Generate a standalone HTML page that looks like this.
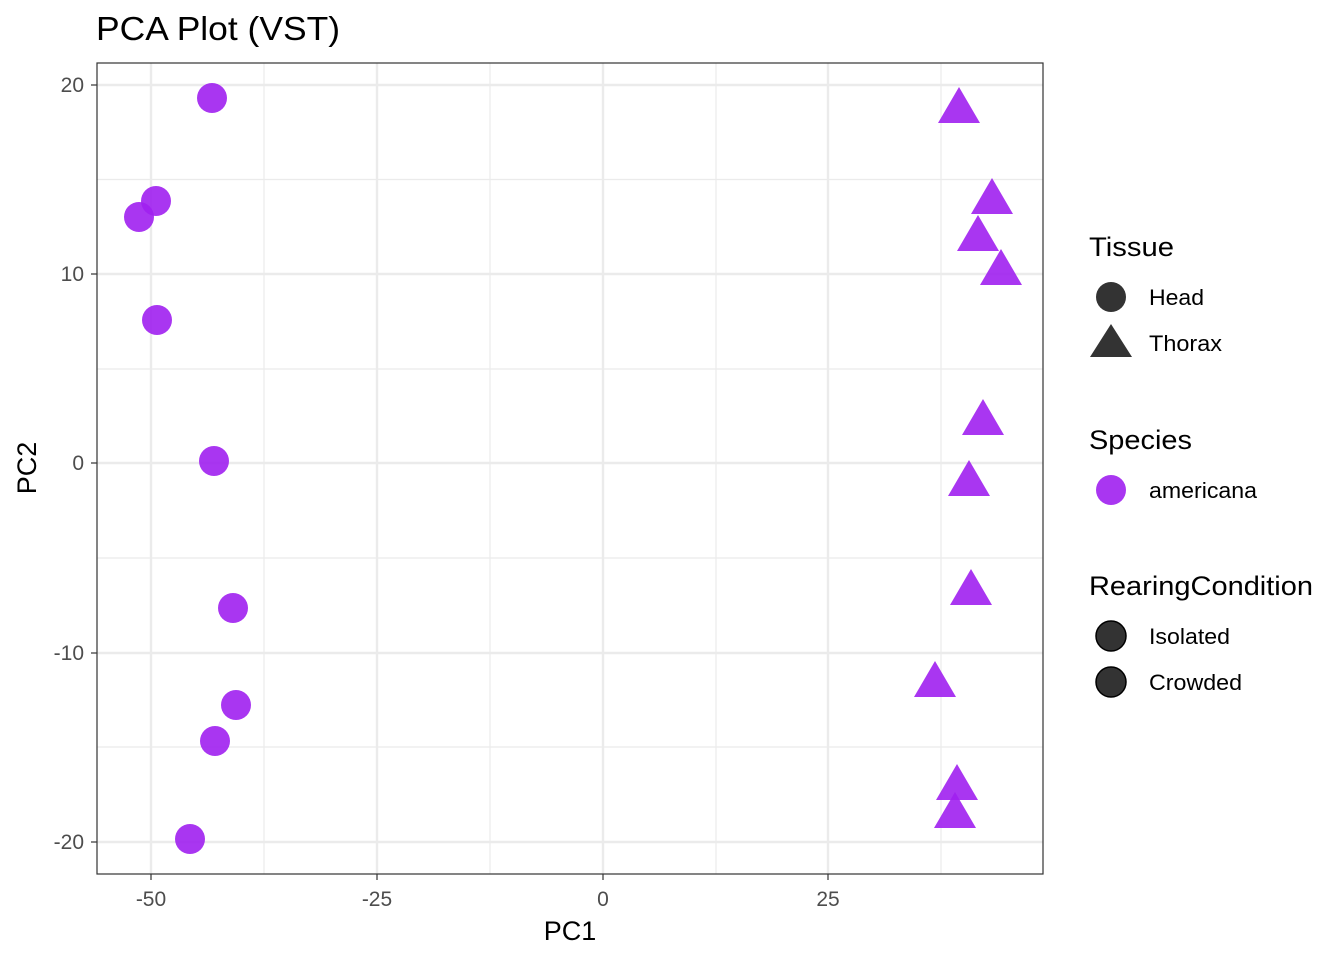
<!DOCTYPE html>
<html><head><meta charset="utf-8"><style>body{margin:0;background:#fff}svg{display:block}</style></head>
<body>
<svg width="1344" height="960" xmlns="http://www.w3.org/2000/svg" font-family="Liberation Sans, Arial, sans-serif">
<rect width="1344" height="960" fill="#fff"/>
<text x="96" y="40" font-size="33" fill="#000" textLength="244" lengthAdjust="spacingAndGlyphs">PCA Plot (VST)</text>
<g stroke="#ebebeb" stroke-width="1.2">
<line x1="264" y1="63" x2="264" y2="874"/><line x1="490" y1="63" x2="490" y2="874"/><line x1="716" y1="63" x2="716" y2="874"/><line x1="941" y1="63" x2="941" y2="874"/>
<line x1="97" y1="179.5" x2="1043" y2="179.5"/><line x1="97" y1="369" x2="1043" y2="369"/><line x1="97" y1="558" x2="1043" y2="558"/><line x1="97" y1="747" x2="1043" y2="747"/>
</g>
<g stroke="#ebebeb" stroke-width="2.4">
<line x1="151" y1="63" x2="151" y2="874"/><line x1="377" y1="63" x2="377" y2="874"/><line x1="603" y1="63" x2="603" y2="874"/><line x1="828" y1="63" x2="828" y2="874"/>
<line x1="97" y1="85" x2="1043" y2="85"/><line x1="97" y1="274" x2="1043" y2="274"/><line x1="97" y1="463" x2="1043" y2="463"/><line x1="97" y1="653" x2="1043" y2="653"/><line x1="97" y1="842" x2="1043" y2="842"/>
</g>
<g fill="#a020f0" fill-opacity="0.9">
<circle cx="212" cy="98" r="15"/><circle cx="156" cy="201" r="15"/><circle cx="139" cy="217" r="15"/><circle cx="157" cy="320" r="15"/><circle cx="214" cy="461" r="15"/><circle cx="233" cy="608" r="15"/><circle cx="236" cy="705" r="15"/><circle cx="215" cy="741" r="15"/><circle cx="190" cy="839" r="15"/>
</g>
<g fill="#a020f0" fill-opacity="0.9">
<polygon points="959,87 980,123 938,123"/>
<polygon points="992,178 1013,214 971,214"/>
<polygon points="978,215 999,251 957,251"/>
<polygon points="1001,249 1022,285 980,285"/>
<polygon points="983,399 1004,435 962,435"/>
<polygon points="969,460 990,496 948,496"/>
<polygon points="971,569 992,605 950,605"/>
<polygon points="935,661 956,697 914,697"/>
<polygon points="957,764 978,800 936,800"/>
<polygon points="955,792 976,828 934,828"/>
</g>
<rect x="97" y="63" width="946" height="811" fill="none" stroke="#333" stroke-width="1.2"/>
<g stroke="#333" stroke-width="1.2">
<line x1="151" y1="874" x2="151" y2="880"/><line x1="377" y1="874" x2="377" y2="880"/><line x1="603" y1="874" x2="603" y2="880"/><line x1="828" y1="874" x2="828" y2="880"/>
<line x1="91" y1="85" x2="97" y2="85"/><line x1="91" y1="274" x2="97" y2="274"/><line x1="91" y1="463" x2="97" y2="463"/><line x1="91" y1="653" x2="97" y2="653"/><line x1="91" y1="842" x2="97" y2="842"/>
</g>
<g font-size="21" fill="#4d4d4d" text-anchor="middle">
<text x="151" y="906">-50</text><text x="377" y="906">-25</text><text x="603" y="906">0</text><text x="828" y="906">25</text>
</g>
<g font-size="21" fill="#4d4d4d" text-anchor="end">
<text x="84" y="92">20</text><text x="84" y="281">10</text><text x="84" y="470">0</text><text x="84" y="660">-10</text><text x="84" y="849">-20</text>
</g>
<text x="570" y="940" font-size="27" text-anchor="middle">PC1</text>
<text transform="translate(36,468) rotate(-90)" font-size="27" text-anchor="middle">PC2</text>
<g font-size="27"><text x="1089" y="256" textLength="85" lengthAdjust="spacingAndGlyphs">Tissue</text><text x="1089" y="449" textLength="103" lengthAdjust="spacingAndGlyphs">Species</text><text x="1089" y="595" textLength="224" lengthAdjust="spacingAndGlyphs">RearingCondition</text></g>
<g font-size="22"><text x="1149" y="305" textLength="55" lengthAdjust="spacingAndGlyphs">Head</text><text x="1149" y="351" textLength="73" lengthAdjust="spacingAndGlyphs">Thorax</text><text x="1149" y="498" textLength="108" lengthAdjust="spacingAndGlyphs">americana</text><text x="1149" y="644" textLength="81" lengthAdjust="spacingAndGlyphs">Isolated</text><text x="1149" y="690" textLength="93" lengthAdjust="spacingAndGlyphs">Crowded</text></g>
<circle cx="1111" cy="297" r="15" fill="#000" fill-opacity="0.8"/>
<polygon points="1111,324 1132,357 1090,357" fill="#000" fill-opacity="0.8"/>
<circle cx="1111" cy="490" r="15" fill="#a020f0" fill-opacity="0.9"/>
<circle cx="1111" cy="636" r="15" fill="#000" fill-opacity="0.8" stroke="#000" stroke-width="1.5"/>
<circle cx="1111" cy="682" r="15" fill="#000" fill-opacity="0.8" stroke="#000" stroke-width="1.5"/>
</svg>
</body></html>
